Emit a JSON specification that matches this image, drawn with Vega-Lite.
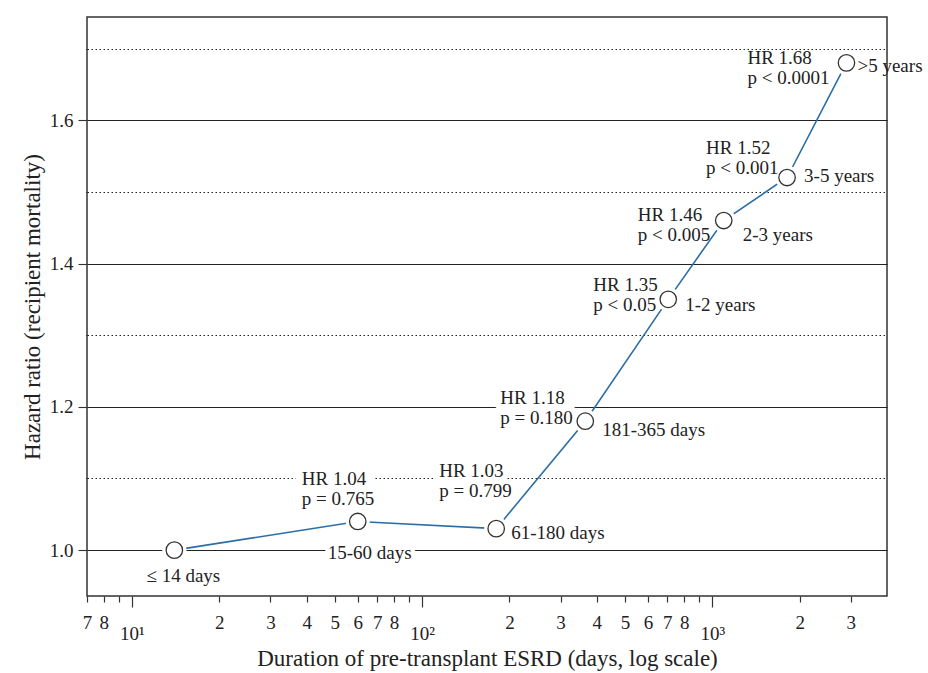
{
  "$schema": "https://vega.github.io/schema/vega-lite/v6.json",
  "width": 800,
  "height": 579,
  "autosize": "none",
  "padding": {"left": 87, "top": 17, "right": 41, "bottom": 77},
  "background": "white",
  "config": {
    "view": {"stroke": "#333", "strokeWidth": 1.5},
    "font": "Liberation Serif",
    "text": {"font": "Liberation Serif", "fontSize": 19, "color": "#222", "baseline": "middle", "lineHeight": 20}
  },
  "data": {
    "values": [
      {"days": 14, "hr": 1.0, "period": "≤ 14 days", "label": null},
      {"days": 60, "hr": 1.04, "period": "15-60 days", "label": ["HR 1.04", "p = 0.765"]},
      {"days": 180, "hr": 1.03, "period": "61-180 days", "label": ["HR 1.03", "p = 0.799"]},
      {"days": 365, "hr": 1.18, "period": "181-365 days", "label": ["HR 1.18", "p = 0.180"]},
      {"days": 705, "hr": 1.35, "period": "1-2 years", "label": ["HR 1.35", "p < 0.05"]},
      {"days": 1095, "hr": 1.46, "period": "2-3 years", "label": ["HR 1.46", "p < 0.005"]},
      {"days": 1810, "hr": 1.52, "period": "3-5 years", "label": ["HR 1.52", "p < 0.001"]},
      {"days": 2900, "hr": 1.68, "period": ">5 years", "label": ["HR 1.68", "p < 0.0001"]}
    ]
  },
  "encoding": {
    "x": {
      "field": "days",
      "type": "quantitative",
      "scale": {"type": "log", "domain": [7, 4000], "nice": false},
      "axis": {
        "title": "Duration of pre-transplant ESRD (days, log scale)",
        "titleFont": "Liberation Serif",
        "titleFontSize": 23,
        "titleFontWeight": "normal",
        "titleColor": "#222",
        "titlePadding": 4,
        "values": [7, 8, 9, 10, 20, 30, 40, 50, 60, 70, 80, 90, 100, 200, 300, 400, 500, 600, 700, 800, 900, 1000, 2000, 3000],
        "labelExpr": "datum.value==10?'10¹':datum.value==100?'10²':datum.value==1000?'10³':(datum.value==9||datum.value==90||datum.value==900)?'':substring(toString(datum.value),0,1)",
        "labelFont": "Liberation Serif",
        "labelFontSize": 19,
        "labelColor": "#222",
        "labelFlush": false,
        "labelOverlap": false,
        "labelBound": false,
        "labelPadding": {"condition": {"test": "datum.value==10||datum.value==100||datum.value==1000", "value": 17}, "value": 11},
        "grid": false,
        "domain": false,
        "tickColor": "#333",
        "tickWidth": 1.2,
        "tickSize": {"condition": {"test": "datum.value==10||datum.value==100||datum.value==1000", "value": 11}, "value": 6}
      }
    },
    "y": {
      "field": "hr",
      "type": "quantitative",
      "scale": {"domain": [0.936, 1.744], "nice": false, "zero": false},
      "axis": {
        "title": "Hazard ratio (recipient mortality)",
        "titleFont": "Liberation Serif",
        "titleFontSize": 23,
        "titleFontWeight": "normal",
        "titleColor": "#222",
        "titlePadding": 5,
        "values": [1.0, 1.1, 1.2, 1.3, 1.4, 1.5, 1.6, 1.7],
        "labelExpr": "round(datum.value*10)%2==0 ? format(datum.value,'.1f') : ''",
        "labelFont": "Liberation Serif",
        "labelFontSize": 19,
        "labelColor": "#222",
        "labelPadding": 5,
        "labelFlush": false,
        "labelOverlap": false,
        "domain": false,
        "grid": true,
        "gridColor": "#222",
        "gridWidth": 1.1,
        "gridOpacity": 1,
        "gridDash": {"condition": {"test": "round(datum.value*10)%2==1", "value": [1.5, 2.5]}, "value": []},
        "tickColor": "#333",
        "tickWidth": 1.1,
        "tickDash": {"condition": {"test": "round(datum.value*10)%2==1", "value": [1.5, 2.5]}, "value": []},
        "tickSize": {"condition": {"test": "round(datum.value*10)%2==1", "value": 4}, "value": 9}
      }
    }
  },
  "layer": [
    {"transform": [{"filter": "datum.period=='15-60 days'"}], "mark": {"type": "text", "align": "left", "dx": -56, "dy": -42, "fill": "white", "stroke": "white", "strokeWidth": 16, "strokeJoin": "round"}, "encoding": {"text": {"field": "label"}}},
    {"transform": [{"filter": "datum.period=='61-180 days'"}], "mark": {"type": "text", "align": "left", "dx": -57, "dy": -58, "fill": "white", "stroke": "white", "strokeWidth": 10, "strokeJoin": "round"}, "encoding": {"text": {"field": "label"}}},
    {"transform": [{"filter": "datum.period=='181-365 days'"}], "mark": {"type": "text", "align": "left", "dx": -85, "dy": -23, "fill": "white", "stroke": "white", "strokeWidth": 12, "strokeJoin": "round"}, "encoding": {"text": {"field": "label"}}},
    {"transform": [{"filter": "datum.period=='15-60 days'"}], "mark": {"type": "text", "align": "center", "dx": 12, "dy": 32, "fill": "white", "stroke": "white", "strokeWidth": 9, "strokeJoin": "round"}, "encoding": {"text": {"field": "period"}}},
    {"mark": {"type": "line", "color": "#2b6ea6", "strokeWidth": 1.6}},
    {"mark": {"type": "point", "shape": "circle", "filled": true, "color": "white", "opacity": 1, "size": 580, "strokeWidth": 0}},
    {"mark": {"type": "point", "shape": "circle", "filled": false, "color": "#333", "opacity": 1, "size": 270, "strokeWidth": 1.3}},
    {"transform": [{"filter": "datum.period=='15-60 days'"}], "mark": {"type": "text", "align": "left", "dx": -56, "dy": -42}, "encoding": {"text": {"field": "label"}}},
    {"transform": [{"filter": "datum.period=='61-180 days'"}], "mark": {"type": "text", "align": "left", "dx": -57, "dy": -58}, "encoding": {"text": {"field": "label"}}},
    {"transform": [{"filter": "datum.period=='181-365 days'"}], "mark": {"type": "text", "align": "left", "dx": -85, "dy": -23}, "encoding": {"text": {"field": "label"}}},
    {"transform": [{"filter": "datum.period=='1-2 years'"}], "mark": {"type": "text", "align": "left", "dx": -75, "dy": -14}, "encoding": {"text": {"field": "label"}}},
    {"transform": [{"filter": "datum.period=='2-3 years'"}], "mark": {"type": "text", "align": "left", "dx": -86, "dy": -6}, "encoding": {"text": {"field": "label"}}},
    {"transform": [{"filter": "datum.period=='3-5 years'"}], "mark": {"type": "text", "align": "left", "dx": -81, "dy": -30}, "encoding": {"text": {"field": "label"}}},
    {"transform": [{"filter": "datum.period=='>5 years'"}], "mark": {"type": "text", "align": "left", "dx": -99, "dy": -5}, "encoding": {"text": {"field": "label"}}},
    {"transform": [{"filter": "datum.period=='≤ 14 days'"}], "mark": {"type": "text", "align": "center", "dx": 9, "dy": 26}, "encoding": {"text": {"field": "period"}}},
    {"transform": [{"filter": "datum.period=='15-60 days'"}], "mark": {"type": "text", "align": "center", "dx": 12, "dy": 32}, "encoding": {"text": {"field": "period"}}},
    {"transform": [{"filter": "datum.period=='61-180 days'"}], "mark": {"type": "text", "align": "left", "dx": 15, "dy": 4}, "encoding": {"text": {"field": "period"}}},
    {"transform": [{"filter": "datum.period=='181-365 days'"}], "mark": {"type": "text", "align": "left", "dx": 17, "dy": 9}, "encoding": {"text": {"field": "period"}}},
    {"transform": [{"filter": "datum.period=='1-2 years'"}], "mark": {"type": "text", "align": "left", "dx": 17, "dy": 6}, "encoding": {"text": {"field": "period"}}},
    {"transform": [{"filter": "datum.period=='2-3 years'"}], "mark": {"type": "text", "align": "left", "dx": 19, "dy": 14}, "encoding": {"text": {"field": "period"}}},
    {"transform": [{"filter": "datum.period=='3-5 years'"}], "mark": {"type": "text", "align": "left", "dx": 17, "dy": -2}, "encoding": {"text": {"field": "period"}}},
    {"transform": [{"filter": "datum.period=='>5 years'"}], "mark": {"type": "text", "align": "left", "dx": 11, "dy": 3}, "encoding": {"text": {"field": "period"}}}
  ]
}
